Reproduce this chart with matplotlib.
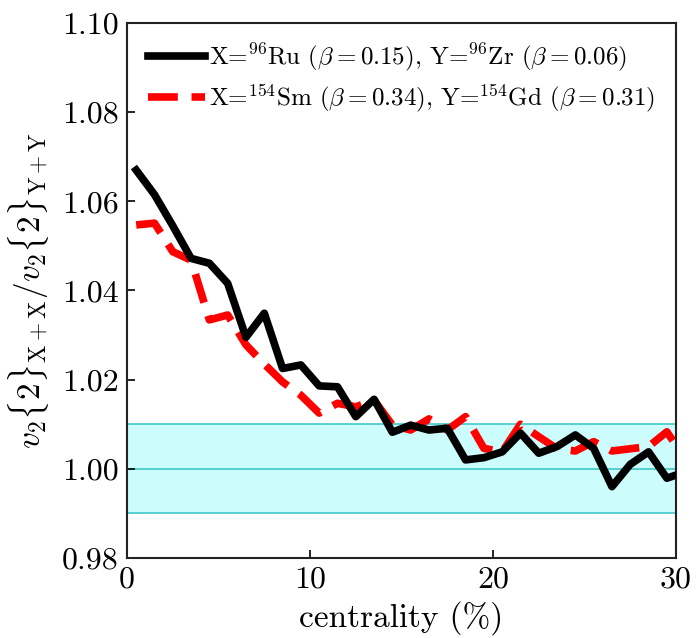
import matplotlib
matplotlib.use("Agg")
import matplotlib.pyplot as plt
import numpy as np

plt.rcParams['font.family'] = 'serif'
plt.rcParams['font.serif'] = ['cmr10']
plt.rcParams['mathtext.fontset'] = 'cm'
plt.rcParams['axes.formatter.use_mathtext'] = True

centrality = [0.5, 1.5, 2.5, 3.5, 4.5, 5.5, 6.5, 7.5, 8.5, 9.5,
              10.5, 11.5, 12.5, 13.5, 14.5, 15.5, 16.5, 17.5, 18.5, 19.5,
              20.5, 21.5, 22.5, 23.5, 24.5, 25.5, 26.5, 27.5, 28.5, 29.5, 30.5]

ru_zr = [1.0670, 1.0615, 1.0545, 1.0472, 1.0461, 1.0416, 1.0295, 1.0349, 1.0225, 1.0233,
         1.0186, 1.0184, 1.0117, 1.0156, 1.0082, 1.0098, 1.0087, 1.0091, 1.0020, 1.0025,
         1.0038, 1.0080, 1.0035, 1.0050, 1.0076, 1.0046, 0.9960, 1.0010, 1.0038, 0.9979, 0.9993]

sm_gd = [1.0547, 1.0551, 1.0487, 1.0468, 1.0334, 1.0345, 1.0278, 1.0235, 1.0195, 1.0165,
         1.0125, 1.0147, 1.0139, 1.0154, 1.0098, 1.0087, 1.0112, 1.0087, 1.0117, 1.0046,
         1.0038, 1.0100, 1.0072, 1.0045, 1.0040, 1.0061, 1.0040, 1.0045, 1.0050, 1.0083, 1.0023]

label_ru = r'X=$^{96}$Ru ($\beta = 0.15$), Y=$^{96}$Zr ($\beta = 0.06$)'
label_sm = r'X=$^{154}$Sm ($\beta = 0.34$), Y=$^{154}$Gd ($\beta = 0.31$)'

band_lo, band_mid, band_hi = 0.99, 1.00, 1.01
yticks = [0.98, 1.00, 1.02, 1.04, 1.06, 1.08, 1.10]
xticks = [0, 10, 20, 30]

fig = plt.figure(figsize=(6.98, 6.38), dpi=100)
ax = fig.add_axes([0.182, 0.1254, 0.7865, 0.8386])

ax.axhspan(band_lo, band_hi, facecolor='#ccfcfc', edgecolor='none', zorder=0)
for yv in (band_lo, band_mid, band_hi):
    ax.axhline(yv, color='#40c8c8', lw=1.2, zorder=1)

ax.plot(centrality, ru_zr, color='black', lw=5.5, label=label_ru, zorder=3)
ax.plot(centrality, sm_gd, color='red', lw=5.5, ls=(0, (3.9, 1.8)), label=label_sm, zorder=2)

ax.set_xlim(0, 30)
ax.set_ylim(0.98, 1.10)
ax.set_xticks(xticks)
ax.set_yticks(yticks)
ax.set_yticklabels([f'{v:.2f}' for v in yticks])
ax.set_xticklabels([str(v) for v in xticks])
ax.tick_params(direction='in', length=6, width=1.2, labelsize=23, pad=6)
for s in ax.spines.values():
    s.set_linewidth(1.5)
    s.set_color('#222222')

ax.set_xlabel(r'centrality (%)', fontsize=24, labelpad=5)
ax.set_ylabel(r'$v_2\{2\}_{\rm X+X}/v_2\{2\}_{\rm Y+Y}$', fontsize=24, labelpad=8)

ax.legend(loc='upper left', bbox_to_anchor=(0.038, 0.965), frameon=False,
          fontsize=18, handlelength=2.3, handletextpad=0.15,
          borderaxespad=0.0, borderpad=0.0, labelspacing=0.35)

fig.savefig('out.png', dpi=100)
